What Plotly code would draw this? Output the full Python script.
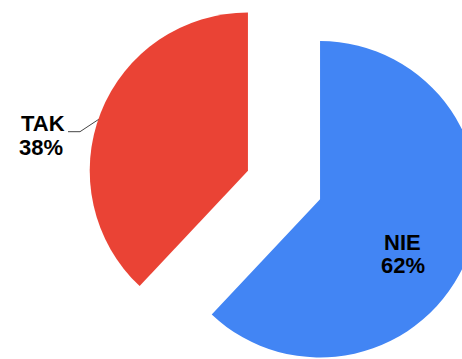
import plotly.graph_objects as go

# ---- data ----
labels = ["NIE", "TAK"]
values = [62, 38]
colors = ["#4285F4", "#EA4335"]

total = sum(values)
percents = [f"{v / total * 100:.0f}%" for v in values]

# ---- layout geometry (page pixels) ----
W, H = 481, 394          # figure size (slightly larger than window, like the cropped original)
L = 87                   # left margin so the pie box sits where the original is
SHIFT = 12               # figure is moved up by this many px on the page
PW, PH = W - L, H

def px(xw, yw):
    """window pixel -> paper coords"""
    return (xw - L) / PW, 1 - (yw + SHIFT) / PH

fig = go.Figure(
    go.Pie(
        labels=labels,
        values=values,
        sort=False,
        direction="clockwise",
        rotation=0,
        pull=[0.245, 0.245],
        marker=dict(colors=colors, line=dict(width=0)),
        textinfo="none",
        hoverinfo="label+percent",
        showlegend=False,
    )
)

font = dict(family="Liberation Sans, Arial, sans-serif", size=22, color="#000000")

# label positions (window px): name line centre, percent line centre
label_pos = {
    "TAK": [(43, 123.6), (41, 147.8)],
    "NIE": [(402, 242.3), (402.7, 265.6)],
}
annotations = []
for lab, pct in zip(labels, percents):
    (x1, y1), (x2, y2) = label_pos[lab]
    for (xx, yy), txt in (((x1, y1), lab), ((x2, y2), pct)):
        ax_, ay_ = px(xx, yy)
        annotations.append(dict(
            x=ax_, y=ay_, xref="paper", yref="paper",
            text=f"<b>{txt}</b>", showarrow=False,
            xanchor="center", yanchor="middle", font=font,
        ))

# leader line for the outside label
pts = [px(68, 131.7), px(80, 131.7), px(106, 114.5)]
path = "M {} {} L {} {} L {} {}".format(*[c for p in pts for c in p])
shapes = [dict(type="path", path=path, xref="paper", yref="paper",
               line=dict(color="#444444", width=1), layer="below")]

fig.update_layout(
    width=W, height=H,
    margin=dict(l=L, r=0, t=0, b=0),
    paper_bgcolor="white", plot_bgcolor="white",
    annotations=annotations, shapes=shapes,
)

post = (
    "var gd=document.getElementById('{plot_id}');"
    "gd.style.marginTop='-" + str(SHIFT) + "px';"
    "document.documentElement.style.overflow='hidden';"
    "document.body.style.overflow='hidden';"
    "document.body.style.margin='0';"
)

fig.write_html("out.html", post_script=post, config={"displayModeBar": False})
